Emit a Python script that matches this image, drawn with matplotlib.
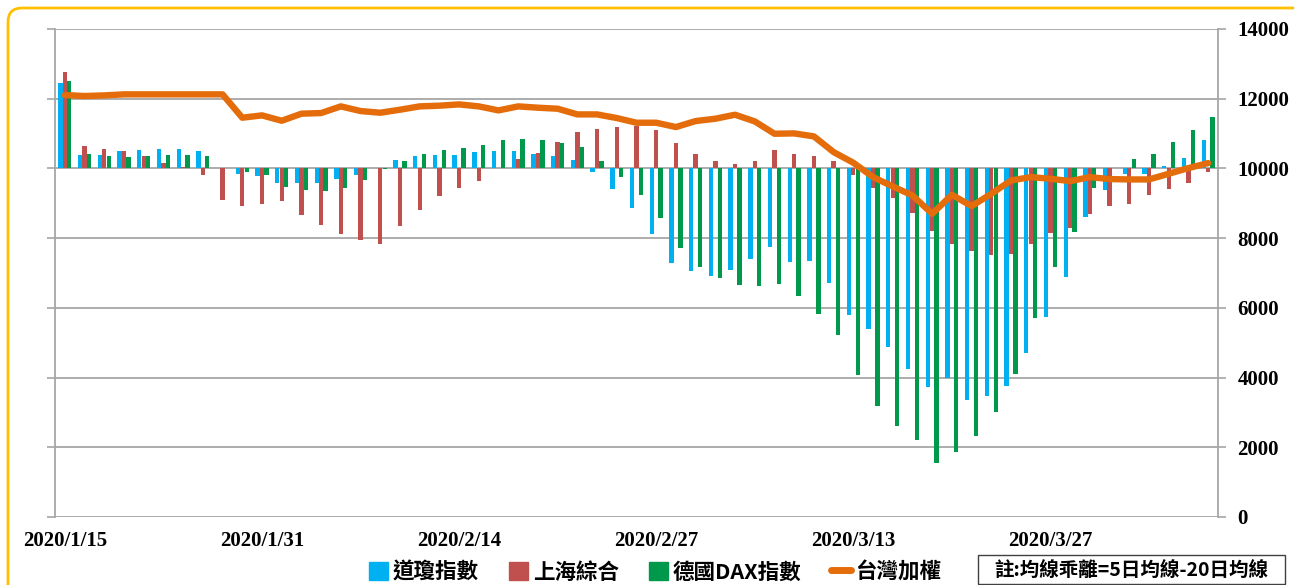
"""Moving-average deviation of Dow / Shanghai / DAX vs TAIEX."""
import matplotlib

matplotlib.use("Agg")
import matplotlib.pyplot as plt
import numpy as np
from matplotlib.lines import Line2D
from matplotlib.patches import FancyBboxPatch, Patch, Rectangle
from matplotlib.transforms import IdentityTransform

# trading days (only every 10th is labelled)
dates = [
    "2020/1/15", "2020/1/16", "2020/1/17", "2020/1/20", "2020/1/21", "2020/1/22",
    "2020/1/23", "2020/1/28", "2020/1/29", "2020/1/30", "2020/1/31",
    "2020/2/3", "2020/2/4", "2020/2/5", "2020/2/6", "2020/2/7", "2020/2/10",
    "2020/2/11", "2020/2/12", "2020/2/13", "2020/2/14",
    "2020/2/15", "2020/2/17", "2020/2/18", "2020/2/19", "2020/2/20", "2020/2/21",
    "2020/2/24", "2020/2/25", "2020/2/26", "2020/2/27",
    "2020/3/2", "2020/3/3", "2020/3/4", "2020/3/5", "2020/3/6", "2020/3/9",
    "2020/3/10", "2020/3/11", "2020/3/12", "2020/3/13",
    "2020/3/16", "2020/3/17", "2020/3/18", "2020/3/19", "2020/3/20", "2020/3/23",
    "2020/3/24", "2020/3/25", "2020/3/26", "2020/3/27",
    "2020/3/30", "2020/3/31", "2020/4/1", "2020/4/6", "2020/4/7", "2020/4/8",
    "2020/4/9", "2020/4/10",
]

# deviation (5MA - 20MA), drawn around the 10000 line
dow = [
    2450, 373, 392, 488, 536, 565, 565, 488, 10, -153,
    -230, -411, -421, -421, -306, -191, 19, 239, 344, 392,
    392, 459, 498, 488, 412, 344, 249, -115, -593, -1129,
    -1895, -2708, -2948, -3091, -2909, -2593, -2249, -2689, -2670, -3292,
    -4211, -4603, -5110, -5742, -6268, -6000, -6651, -6527, -6240, -5300,
    -4250, -3101, -1388, -612, -163, -153, 77, 306, 813,
]
shanghai = [
    2766, 651, 565, 488, 364, 163, 38, -200, -900, -1072,
    -1014, -928, -1330, -1627, -1895, -2058, -2182, -1646, -1187, -785,
    -565, -354, 0, 258, 450, 746, 1043, 1139, 1187, 1215,
    1091, 727, 402, 201, 134, 220, 526, 412, 364, 211,
    -191, -565, -852, -1292, -1799, -2182, -2383, -2488, -2460, -2172,
    -1857, -1703, -1321, -1072, -1014, -766, -593, -421, -96,
]
dax = [
    2507, 421, 354, 325, 354, 373, 392, 354, 5, -96,
    -200, -526, -612, -650, -574, -344, -29, 220, 402, 517,
    574, 679, 823, 833, 804, 718, 622, 201, -249, -766,
    -1426, -2287, -2823, -3139, -3340, -3369, -3302, -3656, -4172, -4766,
    -5924, -6823, -7398, -7790, -8450, -8125, -7666, -6996, -5900, -4300,
    -2814, -1837, -574, 19, 268, 412, 766, 1101, 1474,
]
taiex = [
    12105, 12077, 12095, 12125, 12125, 12125, 12125, 12125, 12125, 11455,
    11522, 11368, 11570, 11589, 11780, 11646, 11598, 11684, 11780, 11800,
    11837, 11780, 11665, 11780, 11742, 11713, 11550, 11550, 11445, 11311,
    11311, 11187, 11359, 11426, 11541, 11349, 10995, 11005, 10919, 10469,
    10163, 9751, 9483, 9225, 8698, 9244, 8919, 9273, 9655, 9751,
    9703, 9636, 9751, 9694, 9684, 9684, 9847, 10010, 10153,
]
labels = ["道瓊指數", "上海綜合", "德國DAX指數", "台灣加權"]
note = "註:均線乖離=5日均線-20日均線"

BASE = 10000
C_DOW, C_SH, C_DAX, C_TW = "#00B0F0", "#C0504D", "#00994C", "#E46C0A"
GRID = "#A6A6A6"

plt.rcParams["font.family"] = ["Liberation Serif", "Noto Sans CJK TC"]
plt.rcParams["font.weight"] = "bold"

W, H = 1294, 585
fig = plt.figure(figsize=(W / 100, H / 100), dpi=100)
ax = fig.add_axes([55 / W, 1 - 517 / H, (1218 - 55) / W, (517 - 29) / H])

x = np.arange(len(dates))
bw, off = 0.22, 0.225
ax.bar(x - off, dow, width=bw, bottom=BASE, color=C_DOW, zorder=2)
ax.bar(x, shanghai, width=bw, bottom=BASE, color=C_SH, zorder=2)
ax.bar(x + off, dax, width=bw, bottom=BASE, color=C_DAX, zorder=2)
ax.plot(x, taiex, color=C_TW, lw=4.6, solid_joinstyle="round",
        solid_capstyle="round", zorder=4)

ax.set_xlim(-0.5, len(dates) - 0.5)
ax.set_ylim(0, 14000)
ax.set_yticks(range(0, 14001, 2000))
ax.yaxis.tick_right()
ax.tick_params(axis="y", left=True, right=True, labelleft=False,
               labelright=True, direction="out", length=6, color=GRID,
               width=1.2, pad=8, labelsize=15)
ax.set_xticks(x[::10])
ax.set_xticklabels(dates[::10])
ax.tick_params(axis="x", length=0, pad=10, labelsize=15)
ax.grid(axis="y", color=GRID, lw=1.3, zorder=0)
ax.set_axisbelow(True)
for s in ("top", "bottom"):
    ax.spines[s].set_visible(False)
for s in ("left", "right"):
    ax.spines[s].set_color(GRID)
    ax.spines[s].set_linewidth(1.3)

handles = [
    Patch(color=C_DOW), Patch(color=C_SH), Patch(color=C_DAX),
    Line2D([], [], color=C_TW, lw=5, solid_capstyle="round"),
]
fig.legend(handles, labels, loc="center", bbox_to_anchor=(655 / W, 1 - 572 / H),
           ncol=4, frameon=False, handlelength=0.9, handleheight=0.9,
           handletextpad=0.2, columnspacing=1.4,
           prop={"family": "Noto Sans CJK TC", "weight": "bold", "size": 15.5})

# note box
fig.add_artist(Rectangle((978, 1), 307, 29, transform=IdentityTransform(),
                         fc="white", ec="#404040", lw=1))
fig.text(1131 / W, 15 / H, note, ha="center", va="center",
         family="Noto Sans CJK TC", weight="bold", size=14)

# outer rounded frame
fig.add_artist(FancyBboxPatch((8, -40), 1320, 617, transform=IdentityTransform(),
                              boxstyle="round,pad=0,rounding_size=14",
                              fc="none", ec="#FFC000", lw=2))

fig.savefig("out.png", dpi=100)
